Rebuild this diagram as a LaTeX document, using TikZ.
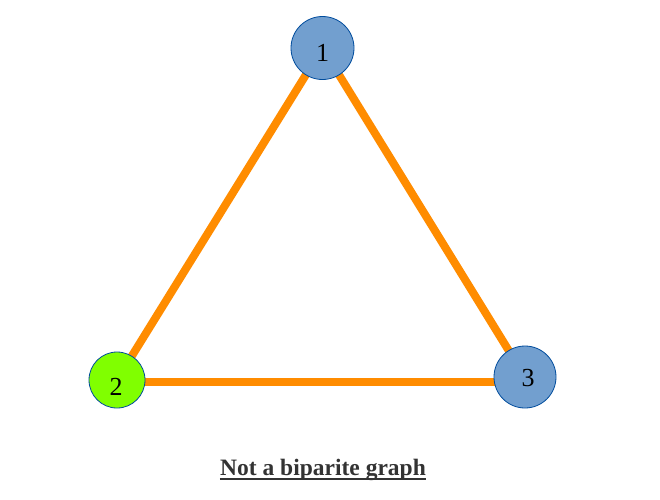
\documentclass[tikz,border=0pt]{standalone}
\usepackage{fontspec}
\setmainfont{Liberation Serif}
\begin{document}
\begin{tikzpicture}[x=1pt,y=-1pt,
  vert/.style={circle,draw=blue!45!black!70!cyan,line width=0.8pt,inner sep=0pt},
  bluev/.style={vert,fill=nodeblue},
  greenv/.style={vert,fill=nodegreen},
  num/.style={font=\fontsize{26}{30}\selectfont},
  edge/.style={draw=edgeorange,line width=8pt}]
\definecolor{nodeblue}{RGB}{114,159,207}
\definecolor{nodegreen}{RGB}{128,255,0}
\definecolor{edgeorange}{RGB}{255,140,0}
\definecolor{textgray}{RGB}{51,51,51}
\useasboundingbox[fill=white] (0,0) rectangle (660,499);
\coordinate (c1) at (322.5,48);
\coordinate (c2) at (117,380);
\coordinate (c3) at (525,377);
\draw[edge] (c1) -- (c2);
\draw[edge] (c1) -- (c3);
\draw[edge] (c2) -- (117,382) -- (525,382);
\node[bluev,minimum size=63pt,label={[num,yshift=-5pt]center:1}] (n1) at (c1) {};
\node[greenv,minimum size=56pt,label={[num,yshift=-7pt,xshift=-1pt]center:2}] (n2) at (c2) {};
\node[bluev,minimum size=62pt,label={[num,yshift=-1pt,xshift=3pt]center:3}] (n3) at (c3) {};
\node[anchor=base,inner sep=0pt,text=textgray,font=\bfseries\fontsize{23.5}{28}\selectfont] (t) at (323,475) {Not a biparite graph};
\draw[textgray,line width=2pt] ([yshift=-4pt]t.base west) -- ([yshift=-4pt]t.base east);
\end{tikzpicture}
\end{document}
